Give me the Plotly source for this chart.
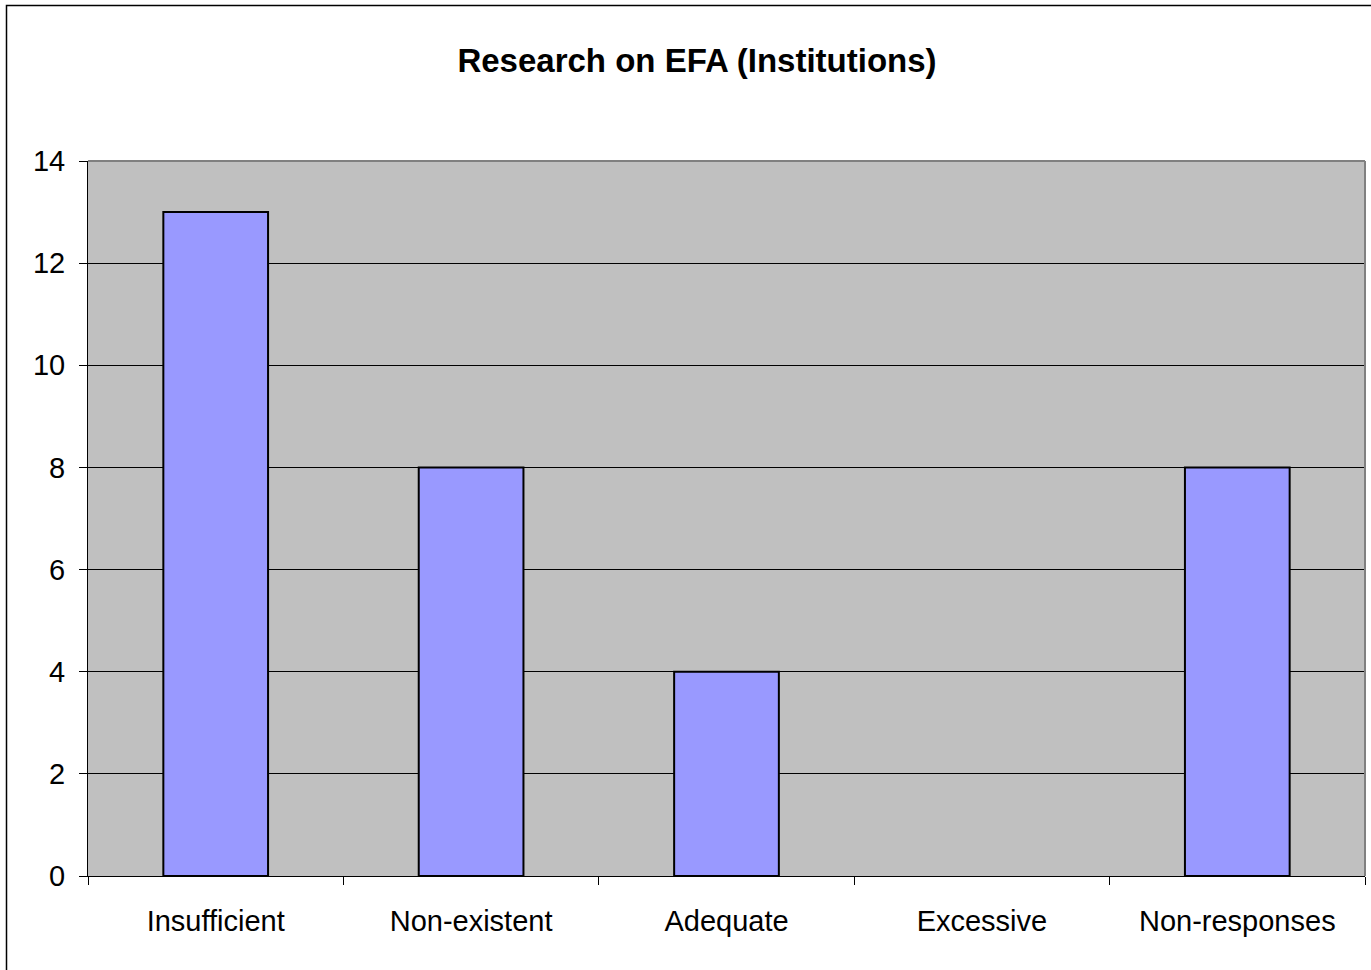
import plotly.graph_objects as go

categories = ["Insufficient", "Non-existent", "Adequate", "Excessive", "Non-responses"]
values = [13, 8, 4, 0, 8]
y_ticks = [0, 2, 4, 6, 8, 10, 12, 14]
title_text = "<b>Research on EFA (Institutions)</b>"

W, H = 1371, 970
L, R, T, B = 88, 6, 161, 94
pw = W - L - R
ph = H - T - B

fig = go.Figure(go.Bar(
    x=categories, y=values,
    marker=dict(color="#9999FF",
                line=dict(color="black", width=[2 if v > 0 else 0 for v in values])),
))

font = "Liberation Sans, Arial, sans-serif"

fig.update_layout(
    width=W, height=H,
    margin=dict(l=L, r=R, t=T, b=B, pad=0),
    paper_bgcolor="white",
    plot_bgcolor="#C0C0C0",
    bargap=0.59,
    showlegend=False,
    font=dict(family=font, size=29, color="black"),
    title=dict(text=title_text, x=697 / W, xanchor="center", xref="container",
               y=1 - 60 / H, yanchor="middle", yref="container",
               font=dict(family=font, size=33, color="black")),
)

fig.update_xaxes(
    showline=True, linecolor="black", linewidth=1,
    ticks="outside", tickson="boundaries", ticklen=8, tickcolor="black",
    showgrid=False, ticklabelstandoff=19,
    tickfont=dict(family=font, size=29),
)
fig.update_yaxes(
    range=[0, 14], tickvals=y_ticks,
    showline=True, linecolor="black", linewidth=1,
    ticks="outside", ticklen=8, tickcolor="black",
    showgrid=True, gridcolor="black", gridwidth=1,
    zeroline=False, ticklabelstandoff=8,
    tickfont=dict(family=font, size=29),
)

# plot-area border (top and right, gray)
fig.add_shape(type="line", xref="paper", yref="paper", x0=0, x1=1, y0=1, y1=1,
              line=dict(color="#808080", width=2))
fig.add_shape(type="line", xref="paper", yref="paper", x0=1, x1=1, y0=0, y1=1,
              line=dict(color="#808080", width=2))

# outer chart border
fig.add_shape(type="rect", xref="paper", yref="paper",
              x0=(6.5 - L) / pw, x1=(W + 10 - L) / pw,
              y0=((H - B) - (H + 10)) / ph, y1=((H - B) - 5.5) / ph,
              line=dict(color="black", width=1.5), fillcolor="rgba(0,0,0,0)")

fig.write_html("out.html", config={"displayModeBar": False},
               post_script="document.body.style.margin='0';")
